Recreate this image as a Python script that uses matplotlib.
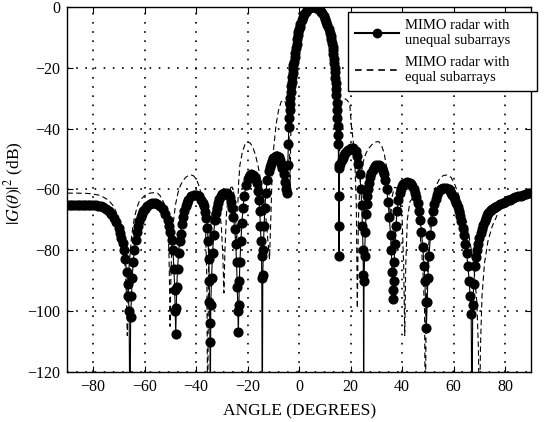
import numpy as np
import matplotlib
matplotlib.use("Agg")
import matplotlib.pyplot as plt
from matplotlib.lines import Line2D

plt.rcParams['font.family'] = ['Liberation Serif', 'DejaVu Serif']
plt.rcParams['mathtext.fontset'] = 'stix'

# (angle in degrees, |G|^2 in dB); values below -120 run off the axes
unequal_pts = [
    (-90, -65.0), (-89, -65.0), (-88, -65.0), (-87, -65.0), (-86, -65.0), (-85, -65.0), (-84, -65.0),
    (-83, -65.0), (-82, -65.0), (-81, -65.0), (-80, -65.1), (-79, -65.2), (-78, -65.3), (-77, -65.5),
    (-76, -65.8), (-75, -66.3), (-74, -67.0), (-73, -68.0), (-72, -69.3), (-71, -70.8), (-70, -72.8),
    (-69.5, -74.2), (-69, -75.8), (-68.5, -77.6), (-68, -80), (-67.5, -83), (-67, -87), (-66.6, -91),
    (-66.3, -95), (-66.0, -100), (-65.7, -140), (-65.4, -102), (-65.1, -95), (-64.8, -89), (-64.4, -84),
    (-64, -80), (-63.5, -76.5), (-63, -74), (-62.5, -72), (-62, -70.5), (-61.5, -69.2), (-61, -68),
    (-60.5, -67), (-60, -66.3), (-59, -65.3), (-58, -64.8), (-57, -64.6), (-56, -64.6), (-55, -64.9),
    (-54, -65.5), (-53, -66.5), (-52, -68),
    (-51, -70), (-50.5, -72), (-50, -74), (-49.5, -76.5), (-49, -80), (-48.6, -86), (-48.3, -93),
    (-48.1, -100), (-47.9, -107.5), (-47.7, -99), (-47.5, -92), (-47.2, -86), (-46.8, -81), (-46.4, -77),
    (-46, -74.5), (-45.5, -71.5), (-45, -69), (-44.5, -67.1), (-44, -65.5), (-43.5, -64.4), (-43, -63.5),
    (-42, -62.3), (-41, -61.8), (-40, -61.8), (-39, -62.3), (-38, -63.5), (-37.5, -64.4), (-37, -65.5),
    (-36.5, -67.3), (-36, -69.5), (-35.6, -72.5),
    (-35.3, -77), (-35.1, -83), (-34.9, -90), (-34.8, -97), (-34.7, -104), (-34.6, -110), (-34.5, -140),
    (-34.3, -98), (-34.0, -89), (-33.6, -81), (-33.2, -75), (-32.7, -70), (-32.3, -67.6), (-32, -66),
    (-31.5, -64.4), (-31, -63), (-30.5, -62.1), (-30, -61.5), (-29, -61), (-28, -61.3), (-27.5, -61.8),
    (-27, -62.5), (-26.5, -64), (-26, -66), (-25.5, -69),
    (-25, -73), (-24.6, -78), (-24.3, -84), (-24.0, -92), (-23.8, -100), (-23.6, -107), (-23.4, -98),
    (-23.2, -90), (-23, -84), (-22.6, -77), (-22.2, -71), (-21.8, -66), (-21.3, -62), (-20.6, -58.5),
    (-20, -56.5), (-19.5, -55.8), (-19, -55.3), (-18.5, -55), (-18, -55.2), (-17.5, -55.7), (-17, -56.5),
    (-16.5, -58), (-16, -60.5),
    (-15.6, -63.5), (-15.3, -67), (-15.0, -72), (-14.8, -77), (-14.6, -82), (-14.5, -89), (-14.3, -140),
    (-14.1, -88), (-13.9, -80), (-13.6, -72), (-13.3, -66), (-12.9, -61), (-12.4, -57), (-11.8, -54),
    (-11.4, -52.6), (-11, -51.5), (-10.5, -50.5), (-10, -49.7), (-9.5, -49.2), (-9, -48.9), (-8.5, -48.9),
    (-8, -49.4), (-7.5, -50.3), (-7, -51.5), (-6.5, -53),
    (-6, -55), (-5.5, -57.5), (-5, -59.8), (-4.6, -61.3), (-4.4, -52), (-4.2, -45), (-4.0, -39.5),
    (-3.85, -36.5), (-3.7, -34), (-3.55, -32), (-3.4, -30), (-3.2, -28), (-3.0, -26), (-2.85, -24.5),
    (-2.7, -23), (-2.55, -21.7), (-2.4, -20.5), (-2.2, -19.2), (-2.0, -18), (-1.75, -16.5), (-1.5, -15),
    (-1.25, -13.5), (-1.0, -12), (-0.75, -10.6), (-0.5, -9.3), (-0.25, -8.3), (0, -7.3), (0.25, -6.5),
    (0.5, -5.7), (1, -4.4), (1.5, -3.3), (2, -2.4), (2.5, -1.6),
    (3, -1.0), (3.5, -0.6), (4, -0.3), (4.5, -0.1), (5, 0), (5.5, 0), (6, 0), (6.5, -0.1), (7, -0.3),
    (7.5, -0.6), (8, -1.0), (8.5, -1.5), (9, -2.1), (9.5, -2.9), (10, -3.8), (10.5, -4.9), (11, -6.0),
    (11.5, -7.2), (12, -8.5), (12.25, -9.4), (12.5, -10.5), (12.75, -11.7), (13, -13), (13.15, -14.2),
    (13.3, -15.5), (13.45, -17), (13.6, -18.5), (13.75, -20), (13.9, -21.5), (14.05, -23.2),
    (14.2, -25), (14.35, -27), (14.5, -29), (14.65, -31.5), (14.8, -34), (14.9, -36.5), (15.0, -39),
    (15.1, -42), (15.2, -45), (15.3, -52), (15.4, -62),
    (15.45, -72), (15.5, -82), (15.55, -53), (16, -51.5), (16.5, -50.4), (17, -49.5), (17.5, -48.7),
    (18, -48), (18.5, -47.5), (19, -47), (20, -46.5),
    (21, -46.5), (21.5, -46.9), (22, -47.5), (22.5, -49), (23, -51.5), (23.5, -55), (24, -60),
    (24.3, -65), (24.6, -72),
    (24.8, -80), (24.95, -88), (25.05, -140), (25.2, -90), (25.4, -82), (25.7, -74), (26, -68),
    (26.25, -64.8), (26.5, -62), (26.75, -59.8), (27, -58), (27.5, -56), (28, -54.5), (28.5, -53.5),
    (29, -52.8), (29.5, -52.3), (30, -52), (31, -52), (31.5, -52.4), (32, -53), (32.5, -53.9), (33, -55),
    (33.5, -57), (34, -60), (34.5, -64), (35, -69), (35.5, -75), (35.8, -80), (36.1, -87), (36.3, -93),
    (36.5, -96), (36.7, -90), (36.9, -84), (37.2, -78), (37.6, -72), (38, -67), (38.5, -63.5), (39, -61),
    (39.5, -59.8), (40, -58.8), (40.5, -58.2), (41, -57.8), (42, -57.5), (43, -57.8), (43.5, -58.3),
    (44, -59), (44.5, -59.9), (45, -61), (45.5, -62.5), (46, -64.5),
    (46.5, -67), (47, -70), (47.5, -74), (48, -79), (48.5, -85), (48.8, -90), (49.1, -97), (49.4, -105.6),
    (49.7, -97), (50, -89), (50.4, -82), (51, -75), (51.5, -70.5), (52, -67), (52.5, -64.8), (53, -63),
    (53.5, -61.8), (54, -60.8), (54.5, -60.2),
    (55, -59.8), (56, -59.5), (57, -59.5), (58, -60), (58.5, -60.4), (59, -61), (59.5, -61.7),
    (60, -62.5), (60.5, -63.4), (61, -64.5), (61.5, -65.7), (62, -67), (62.5, -68.7),
    (63, -70.5), (63.5, -72.6), (64, -75), (64.5, -78), (65, -81), (65.5, -85), (66, -90), (66.4, -95),
    (66.8, -101), (67.1, -140), (67.4, -98), (67.8, -91), (68.3, -85), (68.6, -82.3), (69, -80),
    (69.5, -77.8), (70, -76), (70.5, -74.4), (71, -73), (71.5, -71.7), (72, -70.5), (72.5, -69.4),
    (73, -68.5), (73.5, -67.8), (74, -67.2), (74.5, -66.7), (75, -66.3), (75.5, -66), (76, -65.8),
    (77, -65.3), (78, -64.8), (79, -64.4), (80, -64), (81, -63.6), (82, -63.3), (83, -62.9), (84, -62.6),
    (85, -62.3), (86, -62), (87, -61.7), (88, -61.5), (89, -61.3), (90, -61.2),
]

equal_pts = [
    (-90, -61.2), (-86, -61.2), (-82, -61.3), (-80, -61.5), (-78, -61.8), (-76, -62.5), (-74, -63.5),
    (-72, -65.5), (-71, -67.5), (-70, -70), (-69, -74), (-68, -80), (-67.5, -86), (-67, -95),
    (-66.7, -108), (-66.4, -95), (-66, -85), (-65, -75), (-64, -69.5), (-63, -66), (-62, -63.8),
    (-60, -62), (-58, -61.2), (-56, -61), (-55, -61.2), (-54, -62), (-53, -63.5), (-52, -65.5),
    (-51.3, -69), (-50.8, -74), (-50.5, -82), (-50.3, -92), (-50.1, -105), (-49.8, -90), (-49.5, -80),
    (-49, -72), (-48, -65), (-47, -61), (-46, -58.5), (-45, -57), (-44, -56), (-43, -55.4), (-42, -55.2),
    (-41, -55.5), (-40, -56.5), (-39, -58.5), (-38, -61.5), (-37, -66), (-36.3, -74), (-35.8, -90),
    (-35.5, -140), (-35.2, -88), (-34.5, -74), (-34, -69), (-33, -65), (-32, -64), (-31, -66),
    (-30.2, -72), (-29.6, -82), (-29.2, -94), (-28.8, -80), (-28.2, -68), (-27.5, -62), (-26.5, -59.3),
    (-26, -59.2), (-25.5, -60.5), (-25, -64), (-24.6, -70), (-24.3, -80), (-24, -70), (-23.5, -58),
    (-23, -52), (-22, -47.5), (-21, -45.2), (-20, -44.5), (-19, -44.7), (-18, -46), (-17, -48.5),
    (-16, -52), (-15, -56.5), (-14, -62), (-13, -68.5), (-12.2, -76), (-11.5, -83), (-11, -70),
    (-10.5, -55), (-10, -47.5), (-9, -39), (-8, -34), (-7, -31.2), (-6.2, -30.6), (-5.5, -31),
    (-5, -32.5), (-4.5, -35), (-4, -40), (-3.7, -48), (-3.5, -60), (-3.3, -45), (-3, -33), (-2.5, -22),
    (-2, -17.5), (-1, -11.5), (0, -7), (1, -4), (2, -2), (3, -0.8), (4, -0.2), (5, 0), (6, 0),
    (7, -0.3), (8, -0.9), (9, -2), (10, -3.7), (11, -6), (12, -8.7), (13, -12.5), (14, -18),
    (14.5, -22), (15, -27), (15.3, -33), (15.6, -60), (15.9, -40), (16.3, -32), (17, -30.5),
    (18, -30.2), (19, -31), (19.7, -32.5), (20.3, -39), (21, -44), (21.6, -50), (22.2, -65),
    (22.6, -99), (23, -70), (23.5, -60), (24, -55), (25, -50.5), (26, -48), (27, -46.5), (28.5, -45),
    (30, -44.3), (31, -44.3), (32, -45.5), (33, -48), (34, -53), (34.8, -60), (35.5, -70), (36.2, -62),
    (37, -59.3), (38, -59.5), (39, -63), (40, -70), (40.6, -85), (41, -108), (41.4, -85), (42, -70),
    (43, -64), (44, -63), (45, -65), (46, -69), (47, -75), (48, -85), (48.7, -100), (49, -140),
    (49.3, -100), (50, -82), (51, -70), (52, -63), (53, -59), (54.5, -56.5), (56, -55.4), (57.5, -55.2),
    (59, -56), (60.5, -58.5), (62, -62), (63.5, -66), (65, -71), (66.5, -78), (68, -87), (69, -97),
    (69.6, -112), (70, -140), (70.4, -112), (71, -95), (72, -84), (73.3, -77), (75, -72), (76.6, -69),
    (78, -65.5), (80.5, -62.4), (84, -61.6), (90, -61.3),
]

labels = ['MIMO radar with\nunequal subarrays', 'MIMO radar with\nequal subarrays']
xticks = [-80, -60, -40, -20, 0, 20, 40, 60, 80]
yticks = [-120, -100, -80, -60, -40, -20, 0]

ang_u, g_u = np.array(unequal_pts).T
ang_e, g_e = np.array(equal_pts).T

fig = plt.figure(figsize=(5.44, 4.22), dpi=100)
ax = fig.add_axes([0.1237, 0.1185, 0.8523, 0.8649])

ax.plot(ang_e, g_e, color='k', lw=0.8, ls=(0, (5, 3)), zorder=2)
ax.plot(ang_u, g_u, color='k', lw=0.8, marker='o', ms=6.3, zorder=3)

ax.set_xlim(-90, 90)
ax.set_ylim(-120, 0)
ax.set_xticks(xticks)
ax.set_yticks(yticks)
ax.tick_params(direction='in', top=True, right=True, length=4, labelsize=11.5, pad=5)
ax.grid(True, color='k', lw=1.2, ls=(0, (1, 4.5)))
for s in ax.spines.values():
    s.set_linewidth(1.0)

ax.set_xlabel('ANGLE (DEGREES)', fontsize=12.5, labelpad=6)
ax.set_ylabel(r'$|G(\theta)|^2$ (dB)', fontsize=12.5)
ax.yaxis.set_label_coords(-0.09, 0.518)

handles = [Line2D([], [], color='k', lw=1.5, marker='o', ms=6),
           Line2D([], [], color='k', lw=1.2, ls=(0, (4, 3)))]
leg = ax.legend(handles, labels, loc='upper left', bbox_to_anchor=(0.6054, 0.986, 0.4076, 0.0),
                mode='expand', fontsize=10.5, fancybox=False, framealpha=1, edgecolor='k',
                handlelength=3.0, numpoints=1, borderaxespad=0, borderpad=0.5,
                labelspacing=0.6, handletextpad=0.4)
leg.get_frame().set_linewidth(1.0)

fig.savefig('out.png', dpi=100)
